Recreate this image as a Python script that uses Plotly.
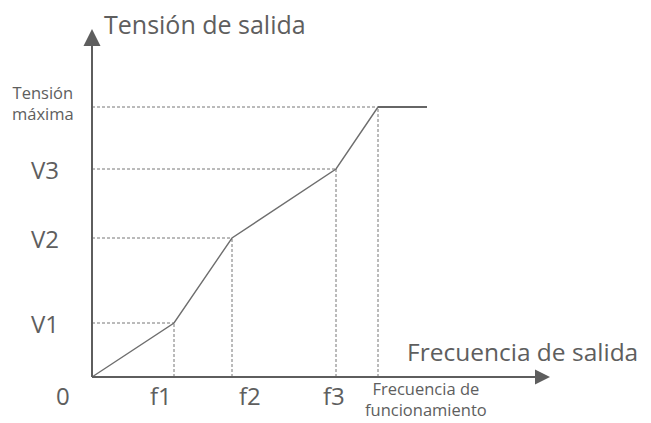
import plotly.graph_objects as go

# breakpoints of the V/f curve (arbitrary units)
freq = [0, 0.82, 1.40, 2.44, 2.86]
volt = [0, 0.54, 1.39, 2.08, 2.70]
f_end = 3.35          # flat part after the operating frequency
x_names = ["f1", "f2", "f3"]
y_names = ["V1", "V2", "V3"]

GRAY = "#5e5e5e"
FONT = "Open Sans"

fig = go.Figure()

# dotted guide lines from each breakpoint to both axes
gx, gy = [], []
for f, v in zip(freq[1:], volt[1:]):
    gx += [0, f, None, f, f, None]
    gy += [v, v, None, 0, v, None]
fig.add_trace(go.Scatter(x=gx, y=gy, mode="lines",
                         line=dict(color="#777777", width=1, dash="3px,2px"),
                         hoverinfo="skip"))

# V/f curve
fig.add_trace(go.Scatter(x=freq, y=volt, mode="lines",
                         line=dict(color="#6e6e6e", width=1.4), hoverinfo="skip"))
fig.add_trace(go.Scatter(x=[freq[-1], f_end], y=[volt[-1], volt[-1]], mode="lines",
                         line=dict(color="#666666", width=2), hoverinfo="skip"))

# axes with arrow heads
x_tip, y_tip = 4.58, 3.48
fig.add_trace(go.Scatter(x=[0, 0, None, 0, x_tip - 0.12], y=[0, y_tip - 0.14, None, 0, 0],
                         mode="lines", line=dict(color=GRAY, width=2), hoverinfo="skip"))
fig.add_trace(go.Scatter(x=[0], y=[y_tip], mode="markers",
                         marker=dict(symbol="arrow-up", size=17, color=GRAY), hoverinfo="skip"))
fig.add_trace(go.Scatter(x=[x_tip], y=[0], mode="markers",
                         marker=dict(symbol="arrow-right", size=15, color=GRAY), hoverinfo="skip"))

ann = []
def txt(x, y, s, size, xanchor="center", xshift=0):
    ann.append(dict(x=x, y=y, text=s, showarrow=False, xanchor=xanchor, yanchor="middle",
                    xshift=xshift, font=dict(family=FONT, size=size, color=GRAY)))

txt(0.10, 3.53, "Tensión de salida", 25, xanchor="left")
txt(3.13, 0.26, "Frecuencia de salida", 24.5, xanchor="left")
txt(-0.29, -0.18, "0", 24)
for f, name, dx in zip(freq[1:4], x_names, [-13, 18, -2]):
    txt(f, -0.18, name, 24, xshift=dx)
for v, name in zip(volt[1:4], y_names):
    txt(-0.47, v, name, 24)
txt(-0.49, volt[-1] + 0.04, "Tensión<br>máxima", 16.5)
txt(freq[-1] + 0.48, -0.22, "Frecuencia de<br>funcionamiento", 16.5)

# page body adds an 8px margin, so the figure is 8px smaller than the window
fig.update_layout(
    width=643, height=415,
    margin=dict(l=0, r=0, t=0, b=0),
    paper_bgcolor="white", plot_bgcolor="white",
    showlegend=False,
    annotations=ann,
    xaxis=dict(range=[-0.84, 5.59], visible=False, fixedrange=True),
    yaxis=dict(range=[-0.46, 3.69], visible=False, fixedrange=True),
)

fig.write_html("out.html")
